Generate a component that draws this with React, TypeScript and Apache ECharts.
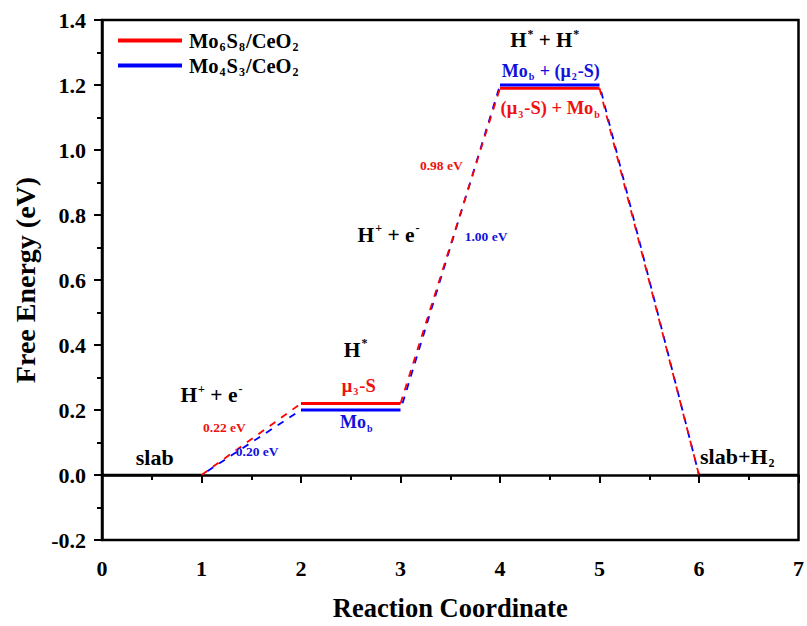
import React, { useEffect, useRef } from "react";
import * as echarts from "echarts";

// Reaction-coordinate levels: each state occupies [2i, 2i+1]
const stateNames = ["slab", "H*", "H* + H*", "slab+H2"];
const mo6s8Energy = [0, 0.22, 1.19, 0];
const mo4s3Energy = [0, 0.2, 1.2, 0];
const seriesNames = ["Mo6S8/CeO2", "Mo4S3/CeO2"];
const xTicks = [0, 1, 2, 3, 4, 5, 6, 7];
const yTicks = [-0.2, 0, 0.2, 0.4, 0.6, 0.8, 1.0, 1.2, 1.4];

const RED = "#ff0000";
const BLUE = "#0000ff";
const RED_TXT = "#ee1111";
const BLUE_TXT = "#1111dd";
const FONT = "'Liberation Serif', 'Times New Roman', serif";

// annotation texts: [x, y, rich-string, colour, size]
const annotations: [number, number, string, string, number][] = [
  [0.53, 0.055, "{n|slab}", "#000", 22],
  [1.1, 0.245, "{n|H}{p|+}{n| + e}{p|-}", "#000", 21.5],
  [1.23, 0.147, "{n|0.22 eV}", RED_TXT, 13.5],
  [1.56, 0.073, "{n|0.20 eV}", BLUE_TXT, 13.5],
  [2.55, 0.385, "{n|H}{p|*}", "#000", 21.5],
  [2.58, 0.275, "{n|μ}{b|3}{n|-S}", RED_TXT, 18.5],
  [2.56, 0.162, "{n|Mo}{b|b}", BLUE_TXT, 18],
  [2.88, 0.74, "{n|H}{p|+}{n| + e}{p|-}", "#000", 21.5],
  [3.41, 0.951, "{n|0.98 eV}", RED_TXT, 13.5],
  [3.86, 0.734, "{n|1.00 eV}", BLUE_TXT, 13.5],
  [4.45, 1.337, "{n|H}{p|*}{n| + H}{p|*}", "#000", 21],
  [4.51, 1.244, "{n|Mo}{b|b}{n| + (μ}{b|2}{n|-S)}", BLUE_TXT, 18],
  [4.51, 1.128, "{n|(μ}{b|3}{n|-S) + Mo}{b|b}", RED_TXT, 18.5],
  [6.39, 0.058, "{n|slab+H}{b|2}", "#000", 22],
];

function richFor(color: string, size: number) {
  const small = Math.round(size * 0.55);
  const base = { fontFamily: FONT, fontWeight: "bold", color, textBorderWidth: 0, textShadowBlur: 0, opacity: 1 };
  return {
    n: { ...base, fontSize: size, lineHeight: size + 4 },
    p: { ...base, fontSize: small, verticalAlign: "top", lineHeight: size + 4, padding: [0, 0, 0, 1] },
    b: { ...base, fontSize: small, verticalAlign: "bottom", lineHeight: size - 2, padding: [0, 1, 0, 1] },
  };
}

function levelSegments(vals: number[], idx: number[]) {
  const out: any[] = [];
  idx.forEach((i) => {
    out.push([2 * i, vals[i]]);
    out.push([2 * i + 1, vals[i]]);
    out.push([null, null]);
  });
  return out;
}

function connectorSegments(vals: number[]) {
  const out: any[] = [];
  for (let i = 0; i < vals.length - 1; i++) {
    out.push([2 * i + 1, vals[i]]);
    out.push([2 * i + 2, vals[i + 1]]);
    out.push([null, null]);
  }
  return out;
}

export default function App() {
  const ref = useRef<HTMLDivElement>(null);
  useEffect(() => {
    if (!ref.current) return;
    const chart = echarts.init(ref.current, null, { renderer: "svg" });
    const axisLabelStyle = { fontFamily: FONT, fontWeight: "bold", fontSize: 22, color: "#000" };
    const legendRich = {
      n: { fontFamily: FONT, fontWeight: "bold", fontSize: 20.5, color: "#000", lineHeight: 25 },
      b: { fontFamily: FONT, fontWeight: "bold", fontSize: 12, color: "#000", verticalAlign: "bottom", lineHeight: 18, padding: [0, 1, 0, 1] },
    };
    const option: any = {
      animation: false,
      backgroundColor: "#fff",
      grid: { left: 102, right: 4, top: 20, bottom: 84, show: true, borderColor: "#000", borderWidth: 2.5, backgroundColor: "transparent" },
      legend: {
        orient: "vertical",
        left: 113,
        top: 25,
        itemWidth: 64,
        itemHeight: 4,
        itemGap: 2,
        icon: "rect",
        data: seriesNames,
        formatter: (name: string) =>
          name === seriesNames[0]
            ? "{n|Mo}{b|6}{n|S}{b|8}{n|/CeO}{b|2}"
            : "{n|Mo}{b|4}{n|S}{b|3}{n|/CeO}{b|2}",
        textStyle: { rich: legendRich, padding: [0, 0, 0, 2] },
      },
      xAxis: {
        type: "value",
        min: xTicks[0],
        max: xTicks[xTicks.length - 1],
        interval: 1,
        name: "Reaction Coordinate",
        nameLocation: "middle",
        nameGap: 54,
        nameTextStyle: { fontFamily: FONT, fontWeight: "bold", fontSize: 26.5, color: "#000" },
        axisLine: { lineStyle: { color: "#000", width: 2.5 } },
        axisTick: { show: true, length: 8, lineStyle: { width: 2, color: "#000" } },
        minorTick: { show: true, splitNumber: 2, length: 5, lineStyle: { width: 2, color: "#000" } },
        axisLabel: { ...axisLabelStyle, margin: 17 },
        splitLine: { show: false },
      },
      yAxis: {
        type: "value",
        min: yTicks[0],
        max: yTicks[yTicks.length - 1],
        interval: 0.2,
        name: "Free Energy (eV)",
        nameLocation: "middle",
        nameGap: 63,
        nameTextStyle: { fontFamily: FONT, fontWeight: "bold", fontSize: 28, color: "#000" },
        axisLine: { lineStyle: { color: "#000", width: 2.5 } },
        axisTick: { show: true, length: 8, lineStyle: { width: 2, color: "#000" } },
        minorTick: { show: true, splitNumber: 2, length: 5, lineStyle: { width: 2, color: "#000" } },
        axisLabel: { ...axisLabelStyle, margin: 16, formatter: (v: number) => v.toFixed(1) },
        splitLine: { show: false },
      },
      series: [
        {
          type: "line",
          name: "slab-levels",
          data: levelSegments(mo6s8Energy, [0, 3]),
          showSymbol: false,
          connectNulls: false,
          lineStyle: { color: "#000", width: 2.5 },
          itemStyle: { color: "#000" },
          silent: true,
          z: 3,
        },
        {
          type: "line",
          name: seriesNames[1] + "-conn",
          data: connectorSegments(mo4s3Energy),
          showSymbol: false,
          lineStyle: { color: BLUE, width: 1.8, type: [7, 7], dashOffset: 7 },
          silent: true,
          z: 2,
        },
        {
          type: "line",
          name: seriesNames[0] + "-conn",
          data: connectorSegments(mo6s8Energy),
          showSymbol: false,
          lineStyle: { color: RED, width: 1.8, type: [7, 7], dashOffset: 0 },
          silent: true,
          z: 2,
        },
        {
          type: "line",
          name: seriesNames[0],
          data: levelSegments(mo6s8Energy, [1, 2]),
          showSymbol: false,
          lineStyle: { color: RED, width: 3 },
          itemStyle: { color: RED },
          silent: true,
          z: 4,
        },
        {
          type: "line",
          name: seriesNames[1],
          data: levelSegments(mo4s3Energy, [1, 2]),
          showSymbol: false,
          lineStyle: { color: BLUE, width: 3 },
          itemStyle: { color: BLUE },
          silent: true,
          z: 4,
        },
        {
          type: "scatter",
          name: "annotations",
          symbolSize: 0,
          silent: true,
          z: 10,
          itemStyle: { opacity: 1, color: "transparent" },
          data: annotations.map(([x, y, text, color, size]) => ({
            value: [x, y],
            itemStyle: { opacity: 1 },
            label: {
              show: true,
              position: "inside",
              color,
              opacity: 1,
              textBorderWidth: 0,
              formatter: text,
              rich: richFor(color, size),
            },
          })),
        },
      ],
    };
    chart.setOption(option);
    return () => chart.dispose();
  }, []);
  return (
    <div
      ref={ref}
      style={{ position: "fixed", left: 0, top: 0, width: 807, height: 626, background: "#fff" }}
    />
  );
}
